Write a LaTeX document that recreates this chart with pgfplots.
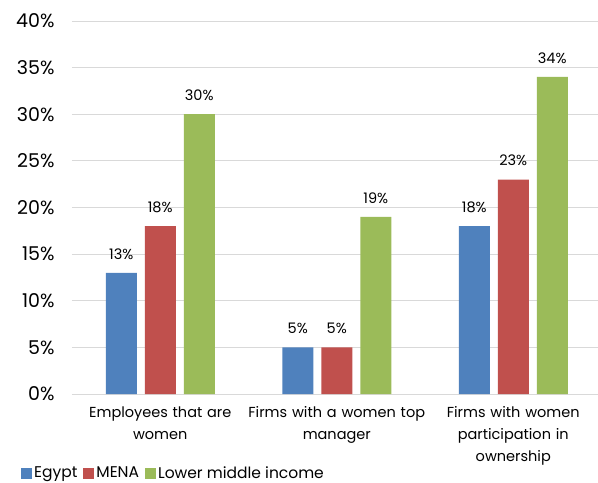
\documentclass[border=0pt]{standalone}
\usepackage{pgfplots}
\pgfplotsset{compat=1.18}
\usepackage{fontspec}
\setmainfont{Poppins}
\definecolor{cblue}{HTML}{4F81BD}
\definecolor{cred}{HTML}{C0504D}
\definecolor{cgreen}{HTML}{9BBB59}
\definecolor{cgrid}{HTML}{D9D9D9}
\begin{document}
\begin{tikzpicture}
\begin{axis}[
  at={(0,0)}, anchor=south west,
  scale only axis, width=526bp, height=373bp,
  ymin=0, ymax=40, xmin=-0.5, xmax=2.48,
  ytick={0,5,...,40},
  yticklabel={\pgfmathprintnumber{\tick}\%},
  /pgf/number format/assume math mode=true,
  yticklabel style={font=\fontsize{19bp}{21bp}\selectfont, text=black, xshift=-14bp},
  ymajorgrids, grid style={cgrid, line width=0.8pt},
  axis x line*=bottom, axis y line*=left,
  y axis line style={draw=none},
  x axis line style={cgrid, line width=0.8pt, -},
  xtick={0,1,2}, xticklabels={{Employees that are\\women},{Firms with a women top\\manager},{Firms with women\\participation in\\ownership}},
  xticklabel style={font=\fontsize{14.5bp}{22bp}\selectfont, align=center, text width=180bp, yshift=-9bp},
  major tick length=0pt,
  ybar, bar width=31bp, 
  nodes near coords={\pgfmathprintnumber{\pgfplotspointmeta}\%},
  nodes near coords style={font=\fontsize{14.5bp}{16bp}\selectfont, text=black, yshift=10bp},
  legend style={at={(-0.097,-0.212)}, anchor=west, draw=none, legend columns=3, font=\fontsize{15.5bp}{17bp}\selectfont, /tikz/every even column/.style={column sep=4bp}, inner sep=0pt},
  legend image code/.code={\fill[#1] (0bp,-5.5bp) rectangle (11bp,5.5bp);},
]
\addplot[fill=cblue, draw=none, bar shift=-39bp] coordinates {(0,13) (1,5) (2,18)};
\addplot[fill=cred, draw=none, bar shift=0bp] coordinates {(0,18) (1,5) (2,23)};
\addplot[fill=cgreen, draw=none, bar shift=39bp] coordinates {(0,30) (1,19) (2,34)};
\legend{Egypt,MENA,Lower middle income}
\end{axis}
\pgfresetboundingbox
\useasboundingbox (-72bp,-89bp) rectangle (526bp,394bp);
\end{tikzpicture}
\end{document}
